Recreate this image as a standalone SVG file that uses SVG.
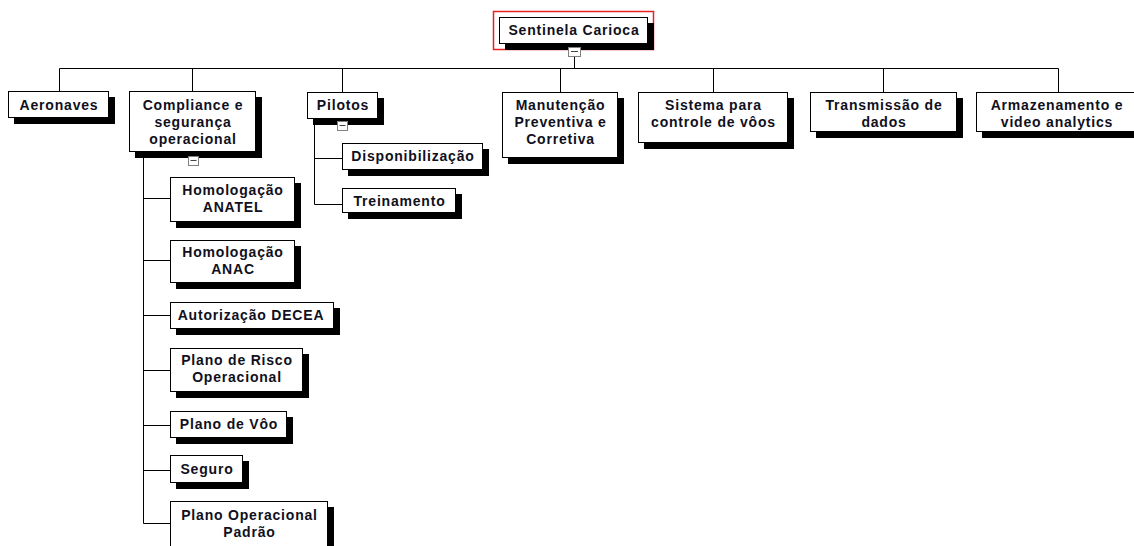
<svg xmlns="http://www.w3.org/2000/svg" width="1134" height="546" viewBox="0 0 1134 546">
<style>
.sh{fill:#000}
.bx{fill:#fff;stroke:#000;stroke-width:1}
.t{font-family:"Liberation Sans",Arial,sans-serif;font-weight:bold;font-size:14px;letter-spacing:0.8px;fill:#101020;text-anchor:middle}
.ln{stroke:#000;stroke-width:1;fill:none}
.cb{fill:#fff;stroke:#808080;stroke-width:1}
.cd{stroke:#444;stroke-width:1}
</style>
<rect width="1134" height="546" fill="#fff"/>
<g id="connectors">
<path class="ln" d="M574.5 57V68.5M59.5 68.5H1058.5M59.5 68.5V91M192.5 68.5V91M342.5 68.5V92M560.5 68.5V92M713.5 68.5V92M883.5 68.5V92M1058.5 68.5V92"/>
<path class="ln" d="M143.5 152V523.5M143.5 198.5H170M143.5 260.5H170M143.5 315.5H170M143.5 370.5H170M143.5 425.5H170M143.5 470.5H170M143.5 523.5H170"/>
<path class="ln" d="M314.5 119V204.5M314.5 158.5H342M314.5 204.5H342"/>
</g>
<g id="root">
<rect x="493.5" y="11.5" width="160" height="38" fill="none" stroke="#e82020" stroke-width="1.5"/>
<rect class="sh" x="505" y="23" width="149" height="27"/>
<rect class="bx" x="499.5" y="17.5" width="148" height="26"/>
<text class="t" x="574" y="35">Sentinela Carioca</text>
<rect class="cb" x="568.5" y="47.5" width="12" height="9"/>
<line class="cd" x1="571" y1="51.5" x2="578" y2="51.5"/>
</g>
<g id="aeronaves">
<rect class="sh" x="14" y="97" width="101" height="27"/>
<rect class="bx" x="8.5" y="91.5" width="100" height="26"/>
<text class="t" x="59" y="110">Aeronaves</text>
</g>
<g id="compliance">
<rect class="sh" x="135" y="97" width="127" height="61"/>
<rect class="bx" x="129.5" y="91.5" width="126" height="60"/>
<text class="t" x="193" y="110">Compliance e</text>
<text class="t" x="193" y="127">segurança</text>
<text class="t" x="193" y="144">operacional</text>
<rect class="cb" x="188.5" y="156.5" width="10" height="9"/>
<line class="cd" x1="190.5" y1="160.5" x2="196.5" y2="160.5"/>
</g>
<g id="pilotos">
<rect class="sh" x="313" y="98" width="71" height="27"/>
<rect class="bx" x="307.5" y="92.5" width="70" height="26"/>
<text class="t" x="343" y="110">Pilotos</text>
<rect class="cb" x="337.5" y="121.5" width="10" height="9"/>
<line class="cd" x1="339.5" y1="125.5" x2="345.5" y2="125.5"/>
</g>
<g id="manutencao">
<rect class="sh" x="508" y="98" width="116" height="66"/>
<rect class="bx" x="502.5" y="92.5" width="115" height="65"/>
<text class="t" x="560.5" y="110">Manutenção</text>
<text class="t" x="560.5" y="127">Preventiva e</text>
<text class="t" x="560.5" y="144">Corretiva</text>
</g>
<g id="sistema">
<rect class="sh" x="644" y="98" width="150" height="51"/>
<rect class="bx" x="638.5" y="92.5" width="149" height="50"/>
<text class="t" x="713.5" y="110">Sistema para</text>
<text class="t" x="713.5" y="127">controle de vôos</text>
</g>
<g id="transmissao">
<rect class="sh" x="816" y="98" width="147" height="40"/>
<rect class="bx" x="810.5" y="92.5" width="146" height="39"/>
<text class="t" x="884" y="110">Transmissão de</text>
<text class="t" x="884" y="127">dados</text>
</g>
<g id="armazenamento">
<rect class="sh" x="982" y="98" width="160" height="40"/>
<rect class="bx" x="976.5" y="92.5" width="160" height="39"/>
<text class="t" x="1057" y="110">Armazenamento e</text>
<text class="t" x="1057" y="127">video analytics</text>
</g>
<g id="disponibilizacao">
<rect class="sh" x="348" y="149" width="141" height="27"/>
<rect class="bx" x="342.5" y="143.5" width="140" height="26"/>
<text class="t" x="413" y="161">Disponibilização</text>
</g>
<g id="treinamento">
<rect class="sh" x="348" y="194" width="114" height="25"/>
<rect class="bx" x="342.5" y="188.5" width="113" height="24"/>
<text class="t" x="399.5" y="206">Treinamento</text>
</g>
<g id="anatel">
<rect class="sh" x="176" y="183" width="125" height="45"/>
<rect class="bx" x="170.5" y="177.5" width="124" height="44"/>
<text class="t" x="233" y="195">Homologação</text>
<text class="t" x="233" y="212">ANATEL</text>
</g>
<g id="anac">
<rect class="sh" x="176" y="246" width="125" height="43"/>
<rect class="bx" x="170.5" y="240.5" width="124" height="42"/>
<text class="t" x="233" y="257">Homologação</text>
<text class="t" x="233" y="274">ANAC</text>
</g>
<g id="decea">
<rect class="sh" x="176" y="308" width="164" height="27"/>
<rect class="bx" x="170.5" y="302.5" width="163" height="26"/>
<text class="t" x="251" y="320">Autorização DECEA</text>
</g>
<g id="risco">
<rect class="sh" x="176" y="354" width="133" height="44"/>
<rect class="bx" x="170.5" y="348.5" width="132" height="43"/>
<text class="t" x="237" y="365">Plano de Risco</text>
<text class="t" x="237" y="382">Operacional</text>
</g>
<g id="voo">
<rect class="sh" x="176" y="417" width="117" height="27"/>
<rect class="bx" x="170.5" y="411.5" width="116" height="26"/>
<text class="t" x="229" y="429">Plano de Vôo</text>
</g>
<g id="seguro">
<rect class="sh" x="176" y="461" width="73" height="28"/>
<rect class="bx" x="170.5" y="455.5" width="72" height="27"/>
<text class="t" x="207" y="474">Seguro</text>
</g>
<g id="padrao">
<rect class="sh" x="176" y="507" width="158" height="50"/>
<rect class="bx" x="170.5" y="501.5" width="157" height="49"/>
<text class="t" x="249.5" y="520">Plano Operacional</text>
<text class="t" x="249.5" y="537">Padrão</text>
</g>
</svg>
